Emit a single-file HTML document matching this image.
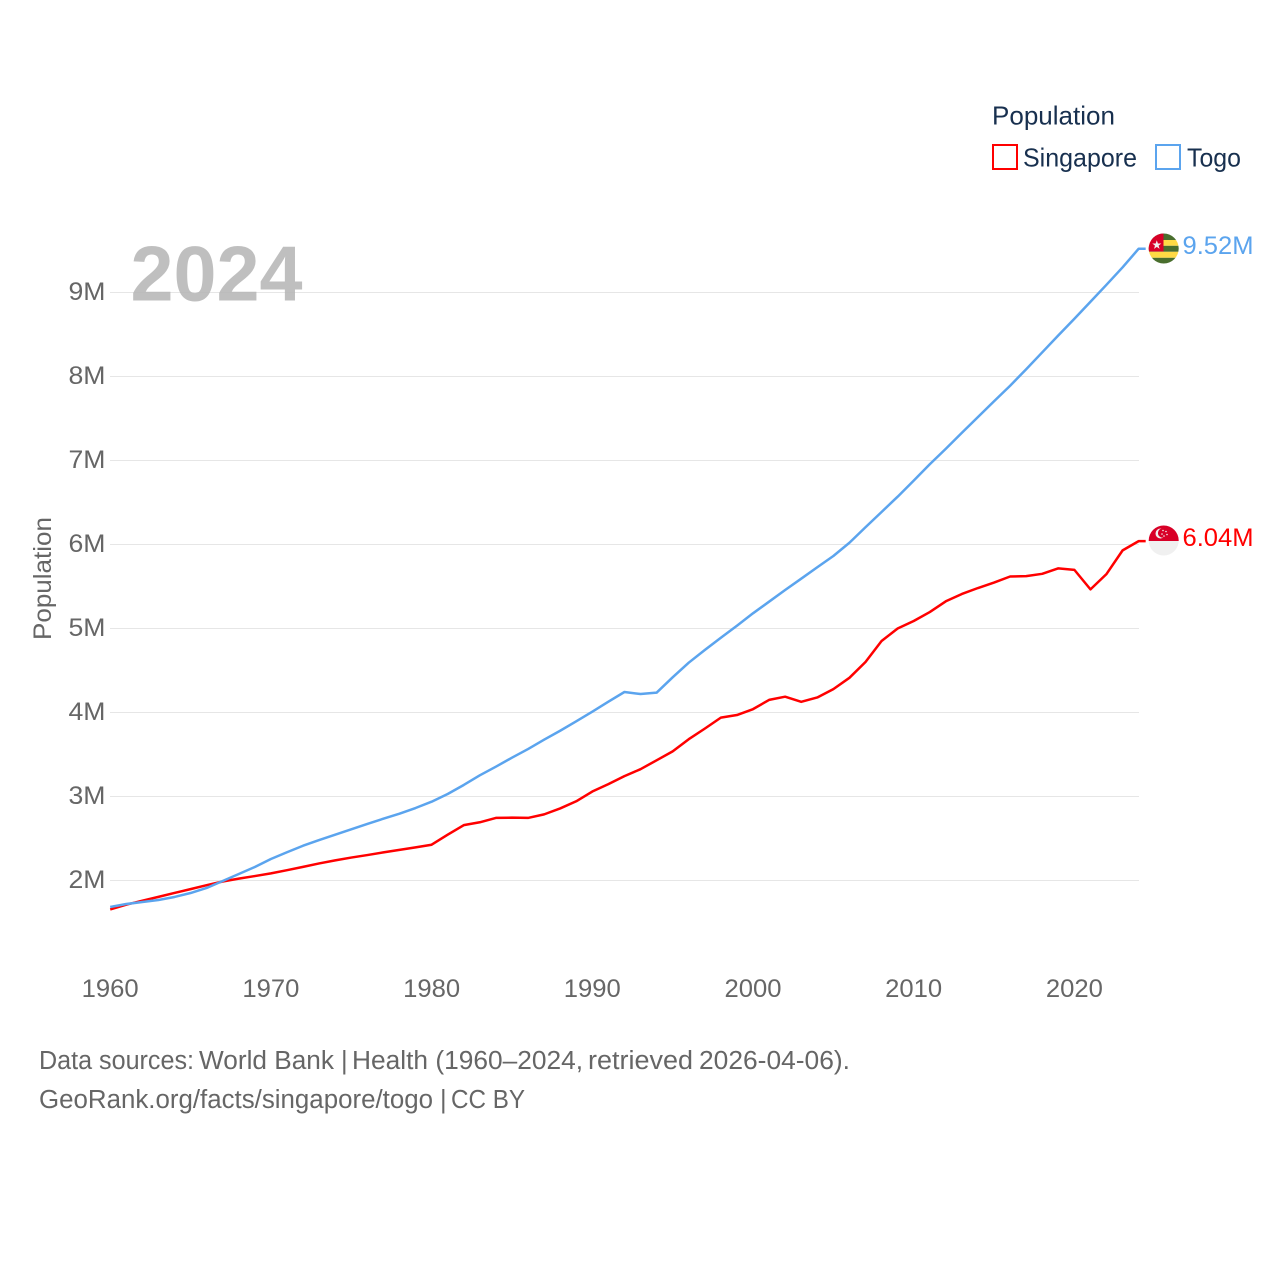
<!DOCTYPE html>
<html lang="en">
<head>
<meta charset="utf-8">
<title>Population: Singapore and Togo</title>
<style>
html,body{margin:0;padding:0;background:#fff;width:1280px;height:1280px;overflow:hidden}
svg{display:block;font-family:"Liberation Sans",sans-serif}
</style>
</head>
<body>
<svg id="chart" xmlns="http://www.w3.org/2000/svg" width="1280" height="1280" viewBox="0 0 1280 1280">
  <rect x="0" y="0" width="1280" height="1280" fill="#fff"/>
  <g id="grid"></g>
  <text x="130.5" y="300.5" font-size="78" font-weight="700" fill="#b4b4b4" fill-opacity="0.85" textLength="172" lengthAdjust="spacingAndGlyphs">2024</text>
  <g id="yticks"></g>
  <g id="xticks"></g>
  <text transform="translate(51,640) rotate(-90)" font-size="25" fill="#666" textLength="123" lengthAdjust="spacingAndGlyphs">Population</text>
  <g id="series"></g>

  <g>
    <clipPath id="clipT"><circle cx="1163.7" cy="248.5" r="15"/></clipPath>
    <g clip-path="url(#clipT)">
      <rect x="1148" y="233" width="31" height="7" fill="#496e2d"/>
      <rect x="1148" y="240" width="31" height="5.8" fill="#ffda44"/>
      <rect x="1148" y="245.8" width="31" height="6" fill="#496e2d"/>
      <rect x="1148" y="251.8" width="31" height="6" fill="#ffda44"/>
      <rect x="1148" y="257.8" width="31" height="7" fill="#496e2d"/>
      <rect x="1148" y="233" width="15.5" height="18.5" fill="#d80027"/>
      <polygon points="1156.8,240.2 1157.9,243.5 1161.3,243.5 1158.6,245.6 1159.6,248.9 1156.8,246.9 1154,248.9 1155,245.6 1152.3,243.5 1155.7,243.5" fill="#f0f0f0"/>
    </g>
  </g>
  <g>
    <clipPath id="clipS"><circle cx="1163.7" cy="540.5" r="15"/></clipPath>
    <g clip-path="url(#clipS)">
      <rect x="1148" y="525" width="31" height="16" fill="#d80027"/>
      <rect x="1148" y="541" width="31" height="16" fill="#f0f0f0"/>
      <circle cx="1160.5" cy="533.5" r="5" fill="#f0f0f0"/>
      <circle cx="1162.5" cy="533" r="4.6" fill="#d80027"/>
      <circle cx="1163" cy="530.5" r="0.8" fill="#f0f0f0"/>
      <circle cx="1166" cy="531.5" r="0.8" fill="#f0f0f0"/>
      <circle cx="1167" cy="534.5" r="0.8" fill="#f0f0f0"/>
      <circle cx="1164" cy="536" r="0.8" fill="#f0f0f0"/>
      <circle cx="1162" cy="534" r="0.8" fill="#f0f0f0"/>
    </g>
  </g>

  <text x="1182.5" y="254" font-size="25" fill="#5ba4ee" textLength="71" lengthAdjust="spacingAndGlyphs">9.52M</text>
  <text x="1182.5" y="546" font-size="25" fill="#ff0000" textLength="71" lengthAdjust="spacingAndGlyphs">6.04M</text>

  <g>
    <text x="992" y="124.5" font-size="26" fill="#18304f" textLength="123" lengthAdjust="spacingAndGlyphs">Population</text>
    <rect x="993" y="145" width="24" height="24" fill="none" stroke="#ff0000" stroke-width="2"/>
    <text x="1023" y="166.5" font-size="26" fill="#18304f" textLength="114" lengthAdjust="spacingAndGlyphs">Singapore</text>
    <rect x="1156" y="145" width="24" height="24" fill="none" stroke="#5ba4ee" stroke-width="2"/>
    <text x="1187" y="166.5" font-size="26" fill="#18304f" textLength="54" lengthAdjust="spacingAndGlyphs">Togo</text>
  </g>

  <text y="1069" font-size="25.5" fill="#666"><tspan x="39" textLength="155" lengthAdjust="spacingAndGlyphs">Data sources:</tspan> <tspan x="199" textLength="135" lengthAdjust="spacingAndGlyphs">World Bank</tspan> <tspan x="341">|</tspan> <tspan x="352" textLength="231" lengthAdjust="spacingAndGlyphs">Health (1960–2024,</tspan> <tspan x="588" textLength="105" lengthAdjust="spacingAndGlyphs">retrieved</tspan> <tspan x="699" textLength="151" lengthAdjust="spacingAndGlyphs">2026-04-06).</tspan></text>
  <text y="1108" font-size="25.5" fill="#666"><tspan x="39" textLength="394" lengthAdjust="spacingAndGlyphs">GeoRank.org/facts/singapore/togo</tspan> <tspan x="440">|</tspan> <tspan x="451" textLength="74" lengthAdjust="spacingAndGlyphs">CC BY</tspan></text>
</svg>
<script>
const yTickValues = [2, 3, 4, 5, 6, 7, 8, 9];
const yTickLabels = ["2M", "3M", "4M", "5M", "6M", "7M", "8M", "9M"];
const xTickYears = [1960, 1970, 1980, 1990, 2000, 2010, 2020];
const firstYear = 1960;
const singaporeValues = [1.655,1.712,1.760,1.805,1.852,1.897,1.944,1.988,2.022,2.053,2.085,2.123,2.162,2.203,2.240,2.273,2.303,2.335,2.364,2.394,2.426,2.545,2.659,2.693,2.745,2.748,2.745,2.787,2.858,2.943,3.059,3.147,3.243,3.325,3.431,3.537,3.682,3.808,3.939,3.970,4.040,4.150,4.188,4.127,4.179,4.278,4.413,4.601,4.851,5.000,5.089,5.196,5.324,5.411,5.482,5.547,5.619,5.624,5.651,5.716,5.698,5.466,5.649,5.930,6.040];
const togoValues = [1.685,1.720,1.744,1.768,1.804,1.851,1.911,1.994,2.077,2.161,2.256,2.336,2.414,2.482,2.545,2.610,2.673,2.736,2.795,2.863,2.938,3.030,3.137,3.252,3.355,3.462,3.565,3.676,3.783,3.895,4.010,4.129,4.244,4.220,4.236,4.419,4.593,4.744,4.890,5.033,5.181,5.319,5.458,5.593,5.729,5.863,6.021,6.205,6.387,6.569,6.760,6.955,7.140,7.331,7.518,7.705,7.890,8.086,8.288,8.490,8.688,8.890,9.093,9.300,9.521];

const NS = 'http://www.w3.org/2000/svg';
function xScale(year) { return 110.2 + (year - 1960) * 16.07; }
function yScale(v) { return 880.5 - (v - 2) * 84; }

const grid = document.getElementById('grid');
const yticks = document.getElementById('yticks');
const xticks = document.getElementById('xticks');
const series = document.getElementById('series');

yTickValues.forEach(function (v, i) {
  const line = document.createElementNS(NS, 'line');
  
  
  line.setAttribute('x1', 110);
  line.setAttribute('x2', 1139);
  line.setAttribute('y1', yScale(v));
  line.setAttribute('y2', yScale(v));
  line.setAttribute('stroke', '#e6e6e6');
  line.setAttribute('stroke-width', 1);
  grid.appendChild(line);

  const t = document.createElementNS(NS, 'text');
  
  
  t.setAttribute('x', 105.5);
  t.setAttribute('y', yScale(v) + 7.5);
  t.setAttribute('text-anchor', 'end');
  t.setAttribute('font-size', 25);
  t.setAttribute('fill', '#666');
  t.setAttribute('textLength', 37);
  t.setAttribute('lengthAdjust', 'spacingAndGlyphs');
  t.textContent = yTickLabels[i];
  yticks.appendChild(t);
});

xTickYears.forEach(function (year) {
  const t = document.createElementNS(NS, 'text');
  
  
  t.setAttribute('x', xScale(year));
  t.setAttribute('y', 997);
  t.setAttribute('text-anchor', 'middle');
  t.setAttribute('font-size', 25);
  t.setAttribute('fill', '#666');
  t.setAttribute('textLength', 57);
  t.setAttribute('lengthAdjust', 'spacingAndGlyphs');
  t.textContent = String(year);
  xticks.appendChild(t);
});

function linePoints(values) {
  const pts = values.map(function (v, i) {
    return xScale(firstYear + i).toFixed(2) + ',' + yScale(v).toFixed(2);
  });
  const last = values[values.length - 1];
  pts.push((xScale(firstYear + values.length - 1) + 7).toFixed(2) + ',' + yScale(last).toFixed(2));
  return pts.join(' ');
}

const singaporeLine = document.createElementNS(NS, 'polyline');


singaporeLine.setAttribute('points', linePoints(singaporeValues));
singaporeLine.setAttribute('fill', 'none');
singaporeLine.setAttribute('stroke', '#ff0000');
singaporeLine.setAttribute('stroke-width', 2.5);
singaporeLine.setAttribute('stroke-linejoin', 'round');
series.appendChild(singaporeLine);

const togoLine = document.createElementNS(NS, 'polyline');


togoLine.setAttribute('points', linePoints(togoValues));
togoLine.setAttribute('fill', 'none');
togoLine.setAttribute('stroke', '#5ba4ee');
togoLine.setAttribute('stroke-width', 2.5);
togoLine.setAttribute('stroke-linejoin', 'round');
series.appendChild(togoLine);
</script>
</body>
</html>
